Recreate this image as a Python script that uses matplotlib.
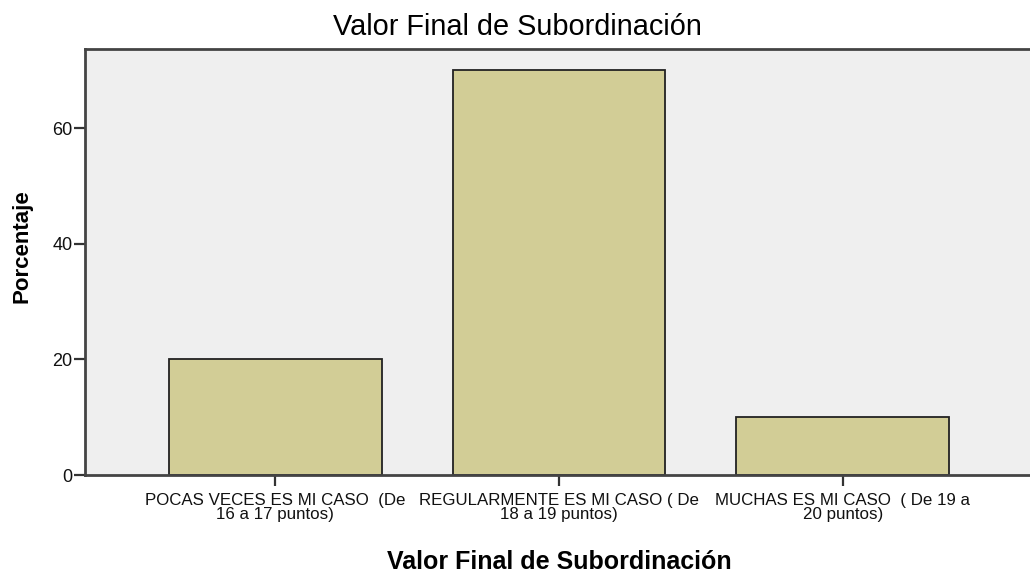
import matplotlib
matplotlib.use('Agg')
import matplotlib.pyplot as plt

categorias = ['POCAS VECES ES MI CASO  (De\n16 a 17 puntos)',
              'REGULARMENTE ES MI CASO ( De\n18 a 19 puntos)',
              'MUCHAS ES MI CASO  ( De 19 a\n20 puntos)']
porcentajes = [20, 70, 10]
yticks = [0, 20, 40, 60]

plt.rcParams['font.family'] = ['Liberation Sans', 'DejaVu Sans']

fig = plt.figure(figsize=(10.30, 5.77), dpi=100)
ax = fig.add_axes([85/1030, 1-475/577, (1033-85)/1030, (475-49)/577])
ax.set_facecolor('#efefef')

x = range(len(categorias))
ax.bar(x, porcentajes, width=0.75, color='#d2cd96', edgecolor='#222222', linewidth=1.3)

ax.set_xlim(-0.67, 2.67)
ax.set_ylim(0, 73.7)
ax.set_yticks(yticks)
ax.set_xticks(list(x))
ax.set_xticklabels(categorias, fontsize=12.2, linespacing=0.9)
ax.tick_params(axis='both', colors='#333333', labelcolor='#111111', width=1.6, length=8)
ax.tick_params(axis='x', pad=5)
ax.tick_params(axis='y', labelsize=13, pad=1)

for s in ['left', 'bottom', 'top']:
    ax.spines[s].set_color('#444444')
    ax.spines[s].set_linewidth(2)
ax.spines['right'].set_visible(False)

# titulo y ejes
fig.text(517/1030, 1-35/577, 'Valor Final de Subordinación', fontsize=20.8,
         ha='center', va='baseline')
fig.text(559/1030, 1-562/577, 'Valor Final de Subordinación', fontsize=18,
         fontweight='bold', ha='center', va='center')
fig.text(22/1030, 1-246/577, 'Porcentaje', fontsize=16, fontweight='bold',
         rotation=90, ha='center', va='center')

fig.savefig('out.png', dpi=100)
